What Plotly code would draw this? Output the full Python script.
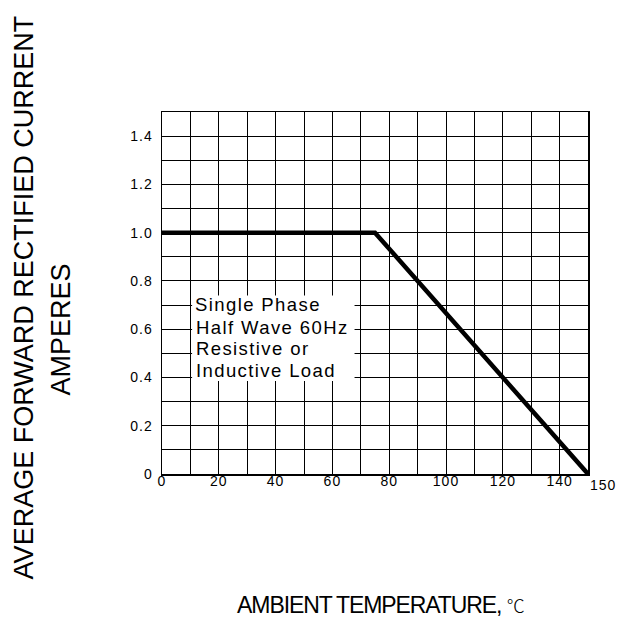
import plotly.graph_objects as go

# Derating curve data
temp_c = [0, 75, 150]
current_a = [1.0, 1.0, 0.0]

x_tick_vals = [0, 20, 40, 60, 80, 100, 120, 140]
x_tick_text = ["0", "20", "40", "60", "80", "100", "120", "140"]
x_end_label = "150"
x_end_val = 150

y_tick_vals = [0, 0.2, 0.4, 0.6, 0.8, 1.0, 1.2, 1.4]
y_tick_text = ["0", "0.2", "0.4", "0.6", "0.8", "1.0", "1.2", "1.4"]

note_lines = ["Single Phase", "Half Wave 60Hz", "Resistive or", "Inductive Load"]

FONT = "Liberation Sans, Arial, sans-serif"

fig = go.Figure()
fig.add_trace(go.Scatter(
    x=temp_c, y=current_a, mode="lines",
    line=dict(color="black", width=4.5),
    hoverinfo="skip", showlegend=False,
))

fig.update_xaxes(
    range=[0, 150], tickvals=x_tick_vals, ticktext=x_tick_text,
    showgrid=True, gridcolor="black", gridwidth=1,
    minor=dict(dtick=10, showgrid=True, gridcolor="black", gridwidth=1),
    showline=True, linecolor="black", linewidth=1.5, mirror=True,
    zeroline=False, ticks="", ticklabelstandoff=-6,
    tickfont=dict(family=FONT, size=14, color="black"),
    fixedrange=True,
)
fig.update_yaxes(
    range=[0, 1.5], tickvals=y_tick_vals, ticktext=y_tick_text,
    showgrid=True, gridcolor="black", gridwidth=1,
    minor=dict(dtick=0.1, showgrid=True, gridcolor="black", gridwidth=1),
    showline=True, linecolor="black", linewidth=1.5, mirror=True,
    zeroline=False, ticks="outside", ticklen=5, tickcolor="rgba(0,0,0,0)",
    tickfont=dict(family=FONT, size=14, color="black"),
    fixedrange=True,
)

# white box behind note text
fig.add_shape(type="rect", xref="x", yref="y", x0=10.6, x1=67.8, y0=0.385, y1=0.74,
              fillcolor="white", line=dict(width=0), layer="above")

note_y = [0.702, 0.609, 0.518, 0.427]
note_x = [11.0, 11.4, 11.4, 11.4]
for txt, xx, yy in zip(note_lines, note_x, note_y):
    fig.add_annotation(x=xx, y=yy, xref="x", yref="y", text=txt, showarrow=False,
                       xanchor="left", yanchor="middle", align="left",
                       font=dict(family=FONT, size=18.5, color="black"))

fig.add_annotation(x=x_end_val, y=0, xref="x", yref="paper", text=x_end_label,
                   showarrow=False, xanchor="left", yanchor="top", yshift=-1, align="left",
                   font=dict(family=FONT, size=14, color="black"))

# axis titles
fig.add_annotation(x=-0.323, y=0.489, xref="paper", yref="paper",
                   text="AVERAGE FORWARD RECTIFIED CURRENT", textangle=-90,
                   showarrow=False, xanchor="center", yanchor="middle",
                   font=dict(family=FONT, size=27, color="black"))
fig.add_annotation(x=-0.238, y=0.398, xref="paper", yref="paper",
                   text="AMPERES", textangle=-90,
                   showarrow=False, xanchor="center", yanchor="middle",
                   font=dict(family=FONT, size=27, color="black"))
fig.add_annotation(x=0.512, y=-0.362, xref="paper", yref="paper",
                   text="AMBIENT TEMPERATURE, <span style='font-family:Noto Sans CJK SC;font-size:18px;font-weight:300'>℃</span>",
                   showarrow=False, xanchor="center", yanchor="middle",
                   font=dict(family=FONT, size=23, color="black"))

fig.update_layout(
    width=629, height=618,
    margin=dict(l=162, r=41, t=112, b=144),
    paper_bgcolor="white", plot_bgcolor="white",
    showlegend=False,
)

css = (
    "body{margin:0;padding:0;overflow:hidden;}"
    ".xtick text, .ytick text{letter-spacing:1px;}"
    ".annotation[data-index='0'] text, .annotation[data-index='1'] text,"
    ".annotation[data-index='2'] text, .annotation[data-index='3'] text{letter-spacing:1.4px;}"
    ".annotation[data-index='4'] text{letter-spacing:1px;}"
    ".annotation[data-index='7'] text{letter-spacing:-1.1px;}"
)
post = "var s=document.createElement('style');s.textContent=\"" + css + "\";document.head.appendChild(s);"

fig.write_html("out.html", post_script=post, config={"displayModeBar": False, "staticPlot": True})
